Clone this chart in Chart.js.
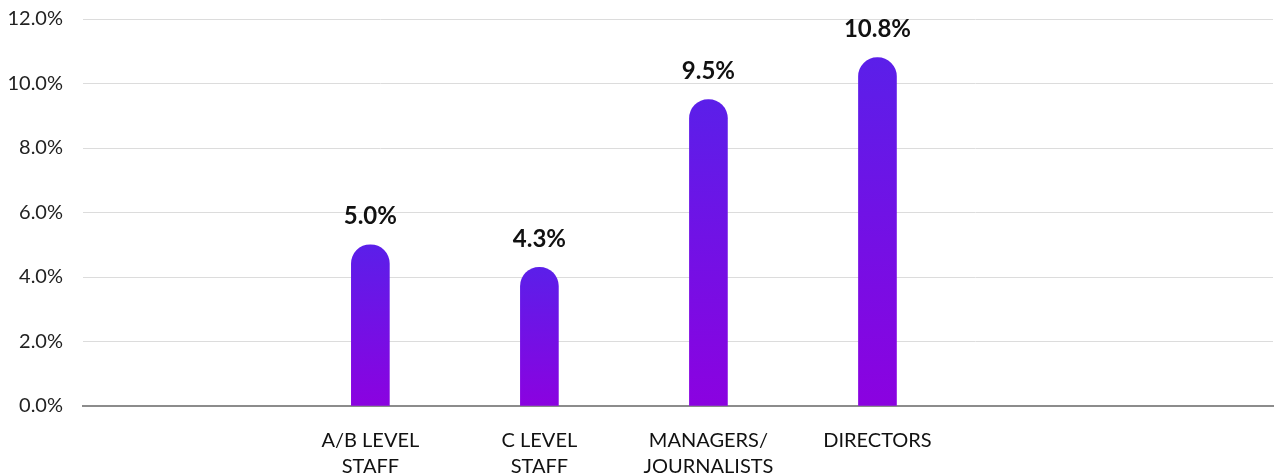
<!DOCTYPE html>
<html>
<head>
<meta charset="utf-8">
<script src="https://cdn.jsdelivr.net/npm/chart.js@4"></script>
<style>
  html, body { margin: 0; padding: 0; background: #fff; }
  #wrap { width: 1274px; height: 476px; position: relative; }
</style>
</head>
<body>
<div id="wrap"><canvas id="staffChart"></canvas></div>
<script>
// data
const categories = [
    ["A/B LEVEL", "STAFF"],
    ["C LEVEL", "STAFF"],
    ["MANAGERS/", "JOURNALISTS"],
    ["DIRECTORS"]
];
const values = [5.0, 4.3, 9.5, 10.8];
const valueLabels = ["5.0%", "4.3%", "9.5%", "10.8%"];
const yTicks = [0, 2, 4, 6, 8, 10, 12];

const FONT = "Lato, 'Noto Sans', sans-serif";

// bar gradient, top to bottom of each bar
function barFill(ctx){
    const chart = ctx.chart;
    if(!chart.chartArea || ctx.type !== "data") return "#6a14e4";
    const y = chart.scales.y;
    const top = y.getPixelForValue(ctx.raw.y);
    const bottom = y.getPixelForValue(0);
    const g = chart.ctx.createLinearGradient(0, top, 0, bottom);
    g.addColorStop(0, "#5b1fe9");
    g.addColorStop(1, "#8b02e0");
    return g;
}

// value labels above bars
const valueLabelPlugin = {
    id: "valueLabels",
    afterDatasetsDraw(chart){
        const ctx = chart.ctx;
        const meta = chart.getDatasetMeta(0);
        ctx.save();
        ctx.font = "bold 24px " + FONT;
        ctx.fillStyle = "#111";
        ctx.textAlign = "center";
        ctx.textBaseline = "middle";
        meta.data.forEach((bar, i) => {
            ctx.fillText(valueLabels[i], bar.x, bar.y - 28);
        });
        ctx.restore();
    }
};

new Chart(document.getElementById("staffChart"), {
    type: "bar",
    data: {
        datasets: [{
            data: values.map((v, i) => ({ x: i, y: v })),
            backgroundColor: barFill,
            barThickness: 38,
            borderRadius: { topLeft: 19, topRight: 19, bottomLeft: 0, bottomRight: 0 },
            borderSkipped: "bottom"
        }]
    },
    options: {
        responsive: true,
        maintainAspectRatio: false,
        animation: false,
        layout: { padding: { top: 19, right: 1, left: 0, bottom: 0 } },
        plugins: {
            legend: { display: false },
            tooltip: { enabled: false }
        },
        scales: {
            x: {
                type: "linear",
                offset: false,
                min: -1.7,
                max: 5.34,
                afterBuildTicks: scale => {
                    scale.ticks = categories.map((c, i) => ({ value: i }));
                },
                afterFit: scale => {
                    scale.height = 70;
                    scale.paddingLeft = 0;
                    scale.paddingRight = 0;
                },
                grid: { display: false, offset: false },
                border: { display: true, color: "#8c8c8c", width: 2 },
                ticks: {
                    autoSkip: false,
                    maxRotation: 0,
                    padding: 14,
                    color: "#111",
                    font: { family: FONT, size: 20, lineHeight: 1.3 },
                    callback: v => categories[v]
                }
            },
            y: {
                min: 0,
                max: 12,
                afterBuildTicks: scale => {
                    scale.ticks = yTicks.map(v => ({ value: v }));
                },
                afterFit: scale => {
                    scale.width = 83;
                    scale.paddingTop = 0;
                    scale.paddingBottom = 0;
                },
                grid: { color: "#dcdcdc", lineWidth: 1, drawTicks: false },
                border: { display: false },
                ticks: {
                    padding: 20,
                    color: "#222",
                    font: { family: FONT, size: 20 },
                    callback: v => v.toFixed(1) + "%"
                }
            }
        }
    },
    plugins: [valueLabelPlugin]
});
</script>
</body>
</html>
